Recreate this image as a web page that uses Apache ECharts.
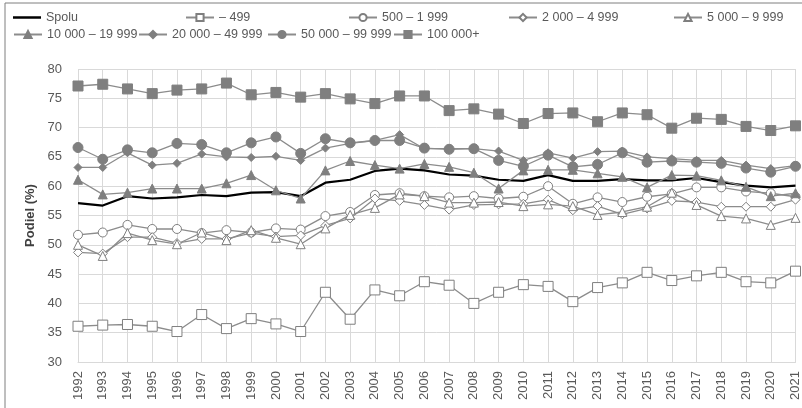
<!DOCTYPE html>
<html>
<head>
<meta charset="utf-8">
<script src="https://cdn.jsdelivr.net/npm/echarts@6/dist/echarts.min.js"></script>
<style>html,body{margin:0;padding:0;background:#fff}#c{width:802px;height:408px}</style>
</head>
<body>
<div id="c"></div>
<script>
const years = ['1992','1993','1994','1995','1996','1997','1998','1999','2000','2001','2002','2003','2004','2005','2006','2007','2008','2009','2010','2011','2012','2013','2014','2015','2016','2017','2018','2019','2020','2021'];
const spolu  = [57.1,56.7,58.3,57.9,58.1,58.5,58.3,58.9,59.0,58.3,60.6,61.1,62.6,63.0,62.7,62.0,61.8,61.1,60.9,61.9,60.9,60.9,61.2,61.0,61.0,61.4,60.7,60.1,59.8,60.1];
const s499   = [36.1,36.3,36.4,36.1,35.2,38.1,35.7,37.4,36.5,35.2,41.9,37.3,42.3,41.3,43.7,43.1,40.0,41.9,43.2,42.9,40.3,42.7,43.5,45.3,43.9,44.7,45.3,43.7,43.5,45.5];
const s500   = [51.7,52.1,53.4,52.7,52.7,52.0,52.5,52.1,52.8,52.6,54.9,55.6,58.5,58.8,58.3,58.1,58.3,57.9,58.2,60.0,57.0,58.1,57.3,58.2,58.7,59.8,59.8,59.1,58.8,58.2];
const s2000  = [48.7,48.5,51.3,51.3,50.3,51.0,51.0,52.0,51.4,51.6,53.3,54.5,57.9,57.5,56.8,56.0,56.8,56.9,57.0,57.7,55.9,56.6,55.2,56.2,57.5,57.3,56.5,56.5,56.5,57.7];
const s5000  = [50.0,48.1,52.0,50.8,50.1,52.1,50.8,52.5,51.2,50.1,52.8,55.1,56.3,58.6,58.3,57.2,57.2,57.3,56.6,56.9,56.6,55.1,55.6,56.5,58.9,56.8,54.9,54.5,53.4,54.6];
const s10000 = [61.1,58.6,58.9,59.6,59.6,59.6,60.5,61.9,59.3,57.9,62.7,64.3,63.6,63.0,63.8,63.3,62.3,59.6,62.7,62.8,62.8,62.2,61.6,59.8,61.9,61.8,61.0,59.9,58.3,58.8];
const s20000 = [63.2,63.2,65.7,63.6,63.9,65.5,65.0,64.9,65.1,64.4,66.5,67.3,67.8,68.8,66.4,66.4,66.4,66.0,64.4,65.7,64.8,65.9,66.0,65.0,64.7,64.4,64.4,63.6,63.0,63.5];
const s50000 = [66.6,64.6,66.2,65.7,67.3,67.1,65.7,67.4,68.4,65.6,68.1,67.4,67.8,67.8,66.5,66.3,66.4,64.4,63.4,65.3,63.3,63.7,65.7,64.1,64.3,64.1,63.9,63.1,62.4,63.4];
const s100000= [77.1,77.4,76.6,75.8,76.4,76.6,77.6,75.6,76.0,75.2,75.8,74.9,74.1,75.4,75.4,72.9,73.2,72.3,70.7,72.4,72.5,71.0,72.5,72.2,69.9,71.6,71.4,70.2,69.5,70.3];
const names = ['Spolu','– 499','500 – 1 999','2 000 – 4 999','5 000 – 9 999','10 000 – 19 999','20 000 – 49 999','50 000 – 99 999','100 000+'];
const yTicks = [30,80,5];

const FONT = 'Liberation Sans, Arial, sans-serif';
const LINE = '#8c8c8c', MARK = '#7f7f7f';
function mk(name, data, symbol, size, filled) {
  return {
    name, type: 'line', data, symbol, symbolSize: size, showSymbol: true,
    lineStyle: {color: LINE, width: 1.3},
    itemStyle: {color: filled ? MARK : '#ffffff', borderColor: MARK, borderWidth: 1},
    emphasis: {disabled: true}, animation: false
  };
}
const series = [
  {name: names[0], type: 'line', data: spolu, showSymbol: false, symbol: 'none',
   lineStyle: {color: '#000', width: 2.2}, itemStyle: {color: '#000'}, emphasis: {disabled: true}, animation: false},
  mk(names[1], s499, 'rect', 10, false),
  mk(names[2], s500, 'circle', 9, false),
  mk(names[3], s2000, 'diamond', 9, false),
  mk(names[4], s5000, 'triangle', 9, false),
  mk(names[5], s10000, 'triangle', 9, true),
  mk(names[6], s20000, 'diamond', 8, true),
  mk(names[7], s50000, 'circle', 10, true),
  mk(names[8], s100000, 'rect', 10, true)
];
const legPos = [[8,6],[180,6],[343,6],[503,6],[668,6],[8,23],[133,23],[262,23],[388,23]];
const legends = names.map((n,i) => {
  const l = {
    data: [n], left: legPos[i][0], top: legPos[i][1], itemWidth: 28, itemHeight: 9, itemGap: 4,
    textStyle: {color: '#595959', fontSize: 12.5, fontFamily: FONT}, selectedMode: false
  };
  if (i === 0) { l.data = [{name: n, icon: 'rect'}]; l.itemHeight = 2.5; l.itemStyle = {color: '#000'}; }
  return l;
});
const chart = echarts.init(document.getElementById('c'));
chart.setOption({
  animation: false,
  backgroundColor: '#fff',
  legend: legends,
  graphic: [{type: 'rect', shape: {x: 5, y: 3, width: 820, height: 430}, style: {fill: 'none', stroke: '#7f7f7f', lineWidth: 1}, silent: true}],
  grid: {left: 78, right: 6, top: 69, bottom: 46, containLabel: false},
  xAxis: {
    type: 'category', data: years, boundaryGap: false,
    axisLine: {show: true, lineStyle: {color: '#d9d9d9'}}, axisTick: {show: false},
    axisLabel: {rotate: 90, color: '#595959', fontSize: 13, fontFamily: FONT, margin: 9, interval: 0},
    splitLine: {show: true, lineStyle: {color: '#d9d9d9', width: 1}}
  },
  yAxis: {
    type: 'value', min: yTicks[0], max: yTicks[1], interval: yTicks[2],
    name: 'Podiel (%)', nameLocation: 'middle', nameRotate: 90, nameGap: 34,
    nameTextStyle: {color: '#404040', fontSize: 13, fontWeight: 'bold', fontFamily: FONT},
    axisLine: {show: false}, axisTick: {show: false},
    axisLabel: {color: '#595959', fontSize: 13, fontFamily: FONT, margin: 16},
    splitLine: {show: true, lineStyle: {color: '#d9d9d9', width: 1}}
  },
  series
});
</script>
</body>
</html>
